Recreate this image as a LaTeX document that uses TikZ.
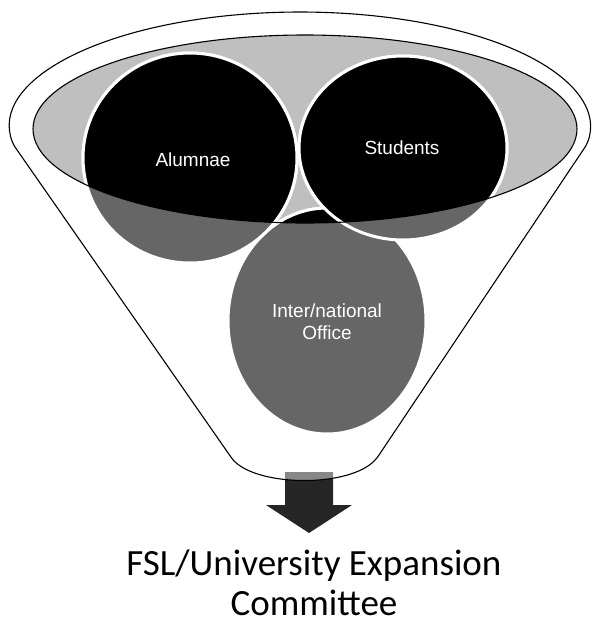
\documentclass[tikz,border=0pt]{standalone}
\usepackage{fontspec}
\setmainfont{Carlito}
\newfontfamily\labelfont{Liberation Sans}
\definecolor{toplight}{HTML}{BFBFBF}
\definecolor{blobgray}{HTML}{666666}
\definecolor{arrowdark}{HTML}{262626}

\begin{document}
\begin{tikzpicture}[x=1pt,y=-1pt,
rim/.style={draw=black,line width=1.1pt},
blob/.style={draw=white,line width=3pt},
lbl/.style={text=white,align=center,font=\labelfont\fontsize{19}{22}\selectfont}
]
\useasboundingbox (0,0) rectangle (595,625);
\coordinate (mouth) at (305,129);
\coordinate (alc) at (190,158);
\coordinate (stc) at (403,148);
\coordinate (ofc) at (327,321);
% arrow below the funnel
\fill[arrowdark] (285,472) -- (333,472) -- (333,505) -- (352,505) -- (309,533) -- (266,505) -- (285,505) -- cycle;
% funnel body
\draw[rim,fill=white,fill opacity=0.45,rounded corners=3pt] (13.6,145) arc[start angle=171,end angle=369,x radius=290,y radius=115] -- (377,458) .. controls (350,487) and (262,487) .. (233,460) -- cycle;
\fill[toplight] (mouth) ellipse[x radius=272,y radius=94];
\foreach \c/\rx/\ry in {ofc/99/113,alc/107/105,stc/104/92}
  \filldraw[blob,fill=blobgray] (\c) ellipse[x radius=\rx,y radius=\ry];
\begin{scope}
\clip (mouth) ellipse[x radius=272,y radius=94];
\foreach \c/\rx/\ry in {ofc/99/113,alc/107/105,stc/104/92}
  \filldraw[blob,fill=black] (\c) ellipse[x radius=\rx,y radius=\ry];
\end{scope}
\draw[rim] (mouth) ellipse[x radius=272,y radius=94];
\node[lbl] (alumnae) at (193,160) {Alumnae};
\node[lbl] (students) at (402,148) {Students};
\node[lbl] (office) at (327,322) {Inter/national\\Office};
\node[font=\fontsize{37}{40}\selectfont,align=center,anchor=base,inner sep=0pt] (committee) at (314,615) {FSL/University Expansion\\Committee};
\end{tikzpicture}
\end{document}
